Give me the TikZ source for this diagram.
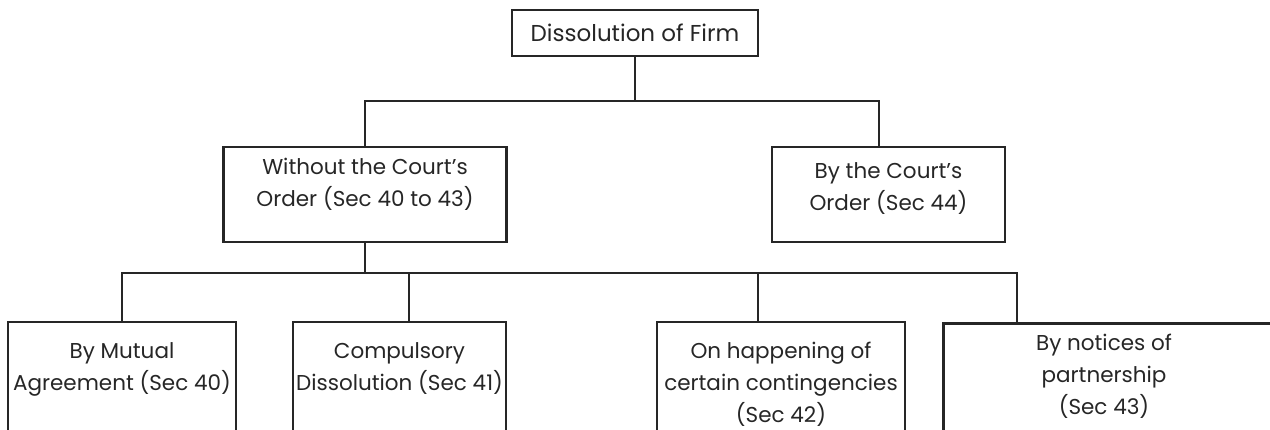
\documentclass[tikz,border=0pt]{standalone}
\usepackage{fontspec}
\setmainfont{Poppins}
\begin{document}
\begin{tikzpicture}[x=1pt,y=-1pt,
  box/.style={draw=black!85,line width=2.8pt,rectangle,inner sep=0pt},
  lbl/.style={align=center,inner sep=0pt,font=\fontsize{21.5}{32}\selectfont,text=black!85},
  conn/.style={draw=black!85,line width=2.8pt}]
\useasboundingbox (0,0) rectangle (1270,429);
\clip (0,0) rectangle (1270,429);
% top
\node[box,minimum width=246pt,minimum height=46pt] (top) at (635,33) {};
\node[lbl,font=\fontsize{23}{32}\selectfont] (toptxt) at (635,33) {Dissolution of Firm};
% middle
\node[box,minimum width=283pt,minimum height=95pt] (wo) at (365,194.5) {};
\node[lbl] (wotxt) at (365,184) {Without the Court's\\Order (Sec 40 to 43)};
\node[box,minimum width=233pt,minimum height=95pt] (by) at (888.5,194.5) {};
\node[lbl] (bytxt) at (888.5,189) {By the Court's\\Order (Sec 44)};
% bottom boxes (open at the bottom edge)
\node[box,minimum width=228pt,minimum height=160pt] (b1) at (122,402) {};
\node[lbl] (b1txt) at (122,369) {By Mutual\\Agreement (Sec 40)};
\node[box,minimum width=213pt,minimum height=160pt] (b2) at (399.5,402) {};
\node[lbl] (b2txt) at (399.5,369) {Compulsory\\Dissolution (Sec 41)};
\node[box,minimum width=248pt,minimum height=160pt] (b3) at (781,402) {};
\node[lbl] (b3txt) at (781,384) {On happening of\\certain contingencies\\(Sec 42)};
\node[box,minimum width=360pt,minimum height=160pt,anchor=north west] (b4) at (942,322) {};
\node[lbl] (b4txt) at (1104,376) {By notices of\\partnership\\(Sec 43)};
% connectors
\coordinate (j1) at (635,101);
\coordinate (j2) at (365,273);
\draw[conn] (top.south) -- (j1);
\draw[conn] (wo.north) |- (j1) -| (by.north -| 879,0);
\draw[conn] (wo.south) -- (j2);
\draw[conn] (b1.north) |- (j2);
\draw[conn] (j2) -| (b4.north -| 1017,0);
\draw[conn] (b2.north -| 409,0) -- (409,273);
\draw[conn] (b3.north -| 758,0) -- (758,273);
\end{tikzpicture}
\end{document}
